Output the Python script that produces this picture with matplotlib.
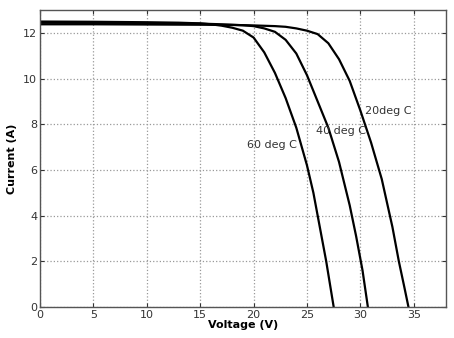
import matplotlib
matplotlib.use("Agg")
import matplotlib.pyplot as plt

# === I-V curve data ===
v_20 = [0, 5, 10, 15, 18, 20, 22, 23, 24, 25, 26, 27, 28, 29, 30, 31, 32, 33, 33.6, 34.1, 34.5]
i_20 = [12.38, 12.38, 12.37, 12.36, 12.35, 12.33, 12.3, 12.27, 12.2, 12.1, 11.95, 11.55,
        10.85, 9.9, 8.6, 7.2, 5.6, 3.5, 2.0, 0.9, 0]

v_40 = [0, 5, 10, 15, 17, 19, 20, 21, 22, 23, 24, 25, 26, 27, 28, 29, 29.6, 30.2, 30.7]
i_40 = [12.45, 12.44, 12.43, 12.41, 12.38, 12.34, 12.3, 12.2, 12.05, 11.7, 11.1, 10.15,
        9.0, 7.85, 6.35, 4.45, 3.1, 1.6, 0]

v_60 = [0, 5, 10, 13, 15, 16, 17, 18, 19, 20, 21, 22, 23, 24, 25, 25.6, 26.2, 26.8, 27.5]
i_60 = [12.5, 12.49, 12.47, 12.45, 12.42, 12.38, 12.32, 12.23, 12.1, 11.8, 11.15, 10.25,
        9.15, 7.85, 6.2, 5.0, 3.5, 2.0, 0]

labels = ["20deg C", "40 deg C", "60 deg C"]
label_pos = [(30.4, 8.6), (25.8, 7.7), (19.4, 7.1)]

xticks = [0, 5, 10, 15, 20, 25, 30, 35]
yticks = [0, 2, 4, 6, 8, 10, 12]

fig = plt.figure(figsize=(4.54, 3.38), dpi=100)
ax = fig.add_axes([0.088, 0.092, 0.894, 0.878])

for v, i in [(v_20, i_20), (v_40, i_40), (v_60, i_60)]:
    ax.plot(v, i, color="black", linewidth=1.6, solid_joinstyle="round")

for txt, (x, y) in zip(labels, label_pos):
    ax.text(x, y, txt, fontsize=8, color="#333333", va="center", ha="left")

ax.set_xlim(0, 38)
ax.set_ylim(0, 13)
ax.set_xticks(xticks)
ax.set_yticks(yticks)
ax.grid(True, linestyle=":", color="#999999", linewidth=0.9)
ax.tick_params(direction="in", top=True, right=True, labelsize=8,
               colors="#333333", length=3, pad=2)
for s in ax.spines.values():
    s.set_color("#555555")
    s.set_linewidth(1.0)

ax.set_xlabel("Voltage (V)", fontsize=8, fontweight="bold", labelpad=0)
ax.set_ylabel("Current (A)", fontsize=8, fontweight="bold", labelpad=4)

fig.savefig("out.png", dpi=100)
